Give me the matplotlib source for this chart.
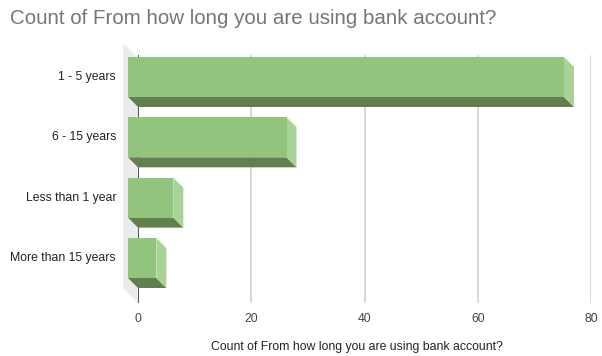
import matplotlib.pyplot as plt
from matplotlib.patches import Polygon
from matplotlib.transforms import offset_copy

plt.rcParams['font.family'] = ['Liberation Sans', 'DejaVu Sans']

categories = ["1 - 5 years", "6 - 15 years", "Less than 1 year", "More than 15 years"]
counts = [77, 28, 8, 5]
x_ticks = [0, 20, 40, 60, 80]

title = "Count of From how long you are using bank account?"

FRONT = '#93c47d'
BOTTOM = '#62804f'
SIDE = '#a9d396'
WALL = '#ebebeb'
GRID = '#d6d6d6'

fig = plt.figure(figsize=(6.02, 3.56), dpi=100, facecolor='white')
ax = fig.add_axes([138 / 602, 1 - 303 / 356, 453 / 602, 248 / 356])
ax.set_xlim(0, 80)
ax.set_ylim(3.58, -0.53)
for s in ax.spines.values():
    s.set_visible(False)
ax.set_yticks([])
ax.set_xticks(x_ticks)
ax.set_xticklabels([str(t) for t in x_ticks], fontsize=8.8, color='#444444')
ax.tick_params(axis='x', length=0, pad=7)

# depth of the 3d effect in pixels, converted to data units
depth = 10
inv = ax.transData.inverted()
x0, y0 = ax.transData.transform((0, 0))
ddx, ddy = inv.transform((x0 - depth, y0 + depth)) - inv.transform((x0, y0))

# left wall
wx, wy = inv.transform((x0 - 15, y0 + 15)) - inv.transform((x0, y0))
ylo, yhi = ax.get_ylim()
wall = Polygon([(0, ylo), (0, yhi - wy * 0.2), (wx, yhi + wy * 0.8), (wx, ylo + wy)],
               closed=True, facecolor=WALL, edgecolor='none', zorder=0, clip_on=False)
ax.add_patch(wall)

for t in x_ticks[1:]:
    ax.axvline(t, color=GRID, linewidth=1.3, zorder=1)
ax.axvline(0, color='#333333', linewidth=1.2, zorder=2)

bar_h = 0.663
for i, v in enumerate(counts):
    top = i - bar_h / 2
    bot = i + bar_h / 2
    # bottom face
    ax.add_patch(Polygon([(0, bot), (v, bot), (v + ddx, bot + ddy), (ddx, bot + ddy)],
                         closed=True, facecolor=BOTTOM, edgecolor='none', zorder=3,
                         clip_on=False))
    # right side face
    ax.add_patch(Polygon([(v, top), (v, bot), (v + ddx, bot + ddy), (v + ddx, top + ddy)],
                         closed=True, facecolor=SIDE, edgecolor='none', zorder=3,
                         clip_on=False))
    # front face
    ax.add_patch(Polygon([(ddx, top + ddy), (v + ddx, top + ddy), (v + ddx, bot + ddy),
                          (ddx, bot + ddy)],
                         closed=True, facecolor=FRONT, edgecolor='none', zorder=4,
                         clip_on=False))

label_tr = offset_copy(ax.transData, fig=fig, x=-22, y=depth, units='dots')
for i, c in enumerate(categories):
    ax.text(0, i, c, transform=label_tr, ha='right', va='center',
            fontsize=8.8, color='#222222')

ax.set_xlabel(title, fontsize=8.8, color='#222222')
ax.xaxis.set_label_coords((357 - 138) / 453, (303 - 347) / 248)
ax.xaxis.label.set_va('center')

fig.text(10 / 602, 1 - 18 / 356, title, ha='left', va='center',
         fontsize=14.8, color='#757575')

fig.savefig("out.png", dpi=100, facecolor='white')
